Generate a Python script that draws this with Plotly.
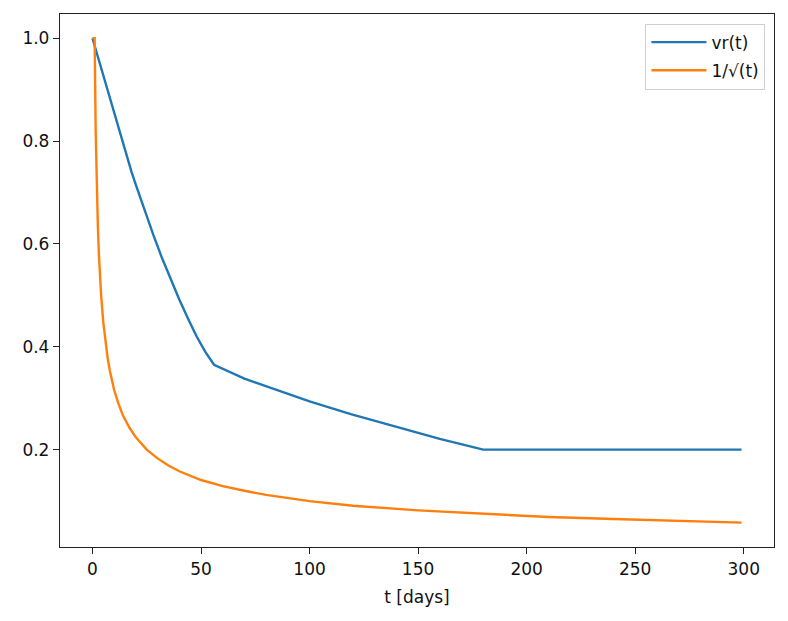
import plotly.graph_objects as go

# vr(t)
vr_days = [0, 2, 4, 6, 8, 10, 12, 14, 16, 18, 20, 24, 28, 32, 36, 40, 44, 48, 52, 56,
           70, 88, 100, 119, 130, 149, 160, 180, 200, 250, 299]
vr_vals = [1.0, 0.971, 0.942, 0.914, 0.886, 0.855, 0.825, 0.795, 0.765, 0.74, 0.715, 0.665, 0.618, 0.573,
           0.532, 0.492, 0.455, 0.42, 0.39, 0.365,
           0.338, 0.311, 0.294, 0.269, 0.256, 0.233, 0.221, 0.2, 0.2, 0.2, 0.2]

# 1/sqrt(t) curve
sq_days = [0, 1, 1.5, 2, 2.5, 3, 3.5, 4, 5, 6, 7, 8, 9, 10, 12, 14, 17, 20, 25, 30, 35, 40, 50, 60, 70, 80,
           100, 120, 150, 180, 210, 240, 270, 299]
sq_vals = [1.0, 1.0, 0.816, 0.707, 0.632, 0.577, 0.535, 0.5, 0.447, 0.408, 0.378, 0.354, 0.333, 0.316,
           0.289, 0.267, 0.243, 0.224, 0.2, 0.183, 0.169, 0.158, 0.141, 0.129, 0.12, 0.112,
           0.1, 0.091, 0.082, 0.075, 0.069, 0.065, 0.061, 0.058]

x_ticks = [0, 50, 100, 150, 200, 250, 300]
y_ticks = [0.2, 0.4, 0.6, 0.8, 1.0]

fig = go.Figure()
fig.add_trace(go.Scatter(x=vr_days, y=vr_vals, mode="lines", name="vr(t)", legendgroup="a",
                         line=dict(color="#1f77b4", width=2.4)))
fig.add_trace(go.Scatter(x=sq_days, y=sq_vals, mode="lines", name="1/√(t)", legendgroup="b",
                         line=dict(color="#ff7f0e", width=2.4)))

axis_style = dict(showline=True, mirror=True, linecolor="#222", linewidth=1.3,
                  ticks="outside", ticklen=6, tickcolor="#222", showgrid=False,
                  zeroline=False, tickfont=dict(size=17, color="#111"))

fig.update_xaxes(range=[-14.95, 313.95], tickvals=x_ticks,
                 title=dict(text="t [days]", font=dict(size=17, color="#111"), standoff=13),
                 **axis_style)
fig.update_yaxes(range=[0.0107, 1.0471], tickvals=y_ticks, tickformat=".1f", **axis_style)

# page has an 8px body margin, so the figure is a bit smaller than the window
fig.update_layout(
    width=780, height=613,
    margin=dict(l=52, r=14, t=6, b=74),
    plot_bgcolor="white", paper_bgcolor="white",
    font=dict(family="DejaVu Sans", size=17, color="#111"),
    legend=dict(x=0.988, y=0.982, xanchor="right", yanchor="top",
                bordercolor="#d0d0d0", borderwidth=1, bgcolor="rgba(255,255,255,0.8)",
                tracegroupgap=3, itemwidth=55, font=dict(size=17)),
)

fig.write_html("out.html")
